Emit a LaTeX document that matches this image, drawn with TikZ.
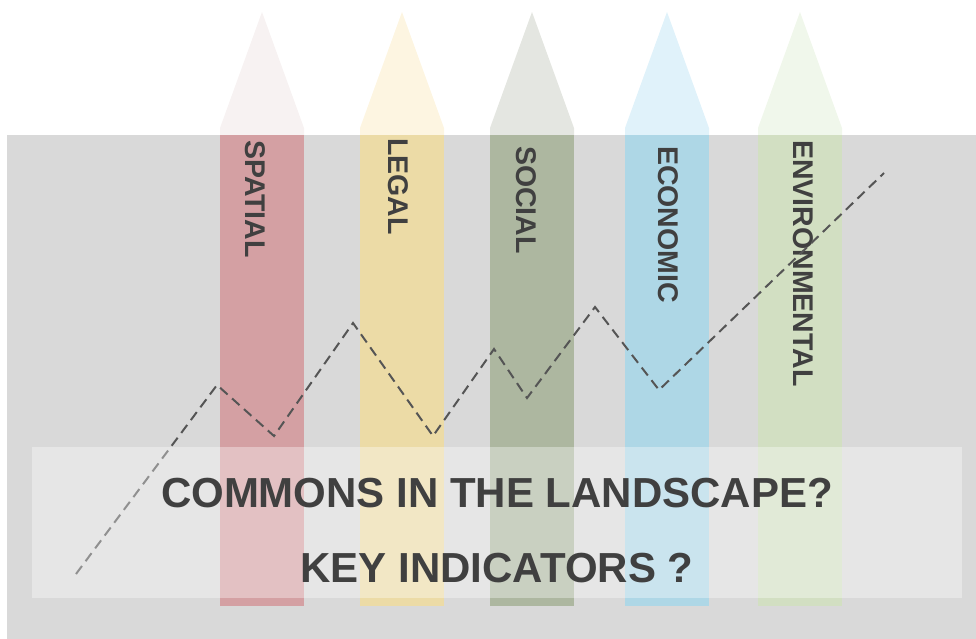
\documentclass[tikz,border=0pt]{standalone}
\usepackage{fontspec}
\setmainfont{Liberation Sans}
\usetikzlibrary{positioning,calc}

\definecolor{groundgray}{RGB}{217,217,217}
\definecolor{textgray}{RGB}{64,64,64}
\definecolor{linegray}{RGB}{85,85,85}
\definecolor{spatialbar}{RGB}{212,160,163}
\definecolor{spatialtip}{RGB}{247,242,242}
\definecolor{legalbar}{RGB}{236,219,166}
\definecolor{legaltip}{RGB}{253,245,225}
\definecolor{socialbar}{RGB}{173,183,160}
\definecolor{socialtip}{RGB}{228,230,225}
\definecolor{econbar}{RGB}{174,215,230}
\definecolor{econtip}{RGB}{224,242,250}
\definecolor{envbar}{RGB}{210,223,194}
\definecolor{envtip}{RGB}{240,247,235}

\begin{document}
\begin{tikzpicture}[x=1pt,y=-1pt,
  bar label/.style={rotate=-90,anchor=west,inner sep=0pt,text=textgray,
    font=\fontsize{28.5}{28.5}\selectfont\bfseries},
  title/.style={anchor=base,inner sep=0pt,text=textgray,
    font=\fontsize{42}{42}\selectfont\bfseries},
  trend/.style={draw=linegray,line width=2pt,dash pattern=on 10pt off 6pt}]
    \useasboundingbox (0,0) rectangle (976,639);
    \fill[groundgray] (7,135) rectangle (976,639);

    % the five pillars
    \foreach \x/\lx/\ly/\bar/\tip/\name/\txt in {
        262/255/140/spatialbar/spatialtip/spatial/SPATIAL,
        402/398/138/legalbar/legaltip/legal/LEGAL,
        532/526/146/socialbar/socialtip/social/SOCIAL,
        667/668/146/econbar/econtip/economic/ECONOMIC,
        800/803/140/envbar/envtip/environmental/ENVIRONMENTAL}
    {
      \fill[\tip] (\x-42,135) -- (\x-42,128) -- (\x,12) -- (\x+42,128) -- (\x+42,135) -- cycle;
      \fill[\bar] (\x-42,135) rectangle (\x+42,606);
      \node[bar label] (\name) at (\lx,\ly) {\txt};
    }

    % ups and downs
    \coordinate (p0) at (76,574);
    \coordinate (p1) at (217,385);
    \coordinate (p2) at (274,436);
    \coordinate (p3) at (353,323);
    \coordinate (p4) at (433,436);
    \coordinate (p5) at (494,349);
    \coordinate (p6) at (527,398);
    \coordinate (p7) at (595,307);
    \coordinate (p8) at (659,390);
    \coordinate (p9) at (884,173);
    \draw[trend] (p0) -- (p1) -- (p2) -- (p3) -- (p4) -- (p5) -- (p6) -- (p7) -- (p8) -- (p9);

    \fill[white,opacity=0.35] (32,447) rectangle (962,598);
    \node[title] (commons) at (497,507) {COMMONS IN THE LANDSCAPE?};
    \node[title] (key) at (497,582) {KEY INDICATORS ?};
\end{tikzpicture}
\end{document}
